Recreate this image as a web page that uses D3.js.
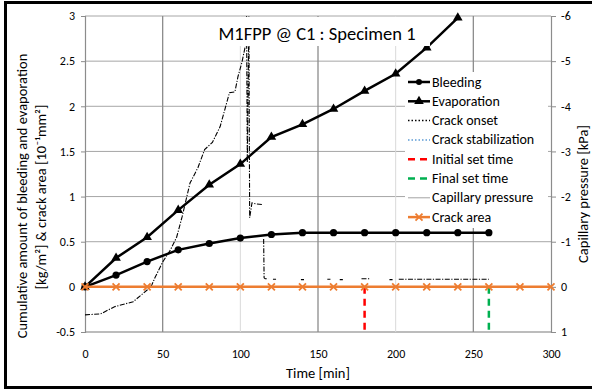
<!DOCTYPE html>
<html>
<head>
<meta charset="utf-8">
<script src="https://cdn.jsdelivr.net/npm/d3@7"></script>
<style>
  body { margin: 0; background: #fff; }
  svg { font-family: Carlito, Calibri, Lato, "Open Sans", sans-serif; }
</style>
</head>
<body>
<svg id="chart" width="592" height="391"></svg>
<script>
// time axis (min)
var xTicks = [0, 50, 100, 150, 200, 250, 300];
var yTicks = [-0.5, 0, 0.5, 1, 1.5, 2, 2.5, 3];
var y2Ticks = [1, 0, -1, -2, -3, -4, -5, -6];

// bleeding and evaporation [kg/m2]
var bleedT = [0, 20, 40, 60, 80, 100, 120, 140, 160, 180, 200, 220, 240, 260];
var bleedV = [0, 0.13, 0.28, 0.41, 0.48, 0.54, 0.58, 0.6, 0.6, 0.6, 0.6, 0.6, 0.6, 0.6];
var evapT = [0, 20, 40, 60, 80, 100, 120, 140, 160, 180, 200, 220, 240];
var evapV = [0, 0.32, 0.55, 0.85, 1.13, 1.36, 1.66, 1.8, 1.97, 2.17, 2.36, 2.65, 2.98];

// crack area [10^-1 mm2]
var crackT = [0, 20, 40, 60, 80, 100, 120, 140, 160, 180, 200, 220, 240, 260, 280, 300];
var crackV = [0, 0, 0, 0, 0, 0, 0, 0, 0, 0, 0, 0, 0, 0, 0, 0];

// set times (min)
var initialSet = 180;
var finalSet = 260;

// capillary pressure [kPa], null = no reading
var capT = [0, 10, 19, 31, 40, 43, 45, 50, 55, 59, 62.5, 67.6, 72.7, 77, 82, 87, 93, 96.5, 98.5, 101, 103,
  104, 104.5, 105.5, 106, 107.5, 110, 114.5, 114.8, 115, 115.3,
  116, 118, 118.5, 121, 123, 123.5, 139, 141, 141.5, 156, 158, 158.5, 164, 166, 166.5,
  178, 183, 183.5, 196, 198, 198.5, 202, 260];
var capP = [0.62, 0.6, 0.44, 0.33, 0.07, -0.04, -0.2, -0.55, -0.82, -1.1, -1.55, -2.3, -2.64, -3.04, -3.2, -3.55, -4.3, -4.32, -4.66, -4.97, -5.3,
  -6, -2.75, -6, -1.53, -1.86, -1.84, -1.82, null, -1.06, -0.2,
  -0.18, -0.18, null, -0.17, -0.17, null, -0.16, -0.16, null, -0.17, -0.17, null, -0.16, -0.16, null,
  -0.18, -0.18, null, -0.16, -0.16, null, -0.17, -0.17];

var legendNames = ["Bleeding", "Evaporation", "Crack onset", "Crack stabilization",
  "Initial set time", "Final set time", "Capillary pressure", "Crack area"];

var svg = d3.select("#chart");
var plotL = 85, plotR = 551, plotT = 16, plotB = 332;

var x = d3.scaleLinear().domain([0, 300]).range([plotL, plotR]);
var y = d3.scaleLinear().domain([-0.5, 3]).range([plotB, plotT]);
var y2 = d3.scaleLinear().domain([1, -6]).range([plotB, plotT]);

// outer frame (right edge is cut off in the picture)
svg.append("path")
  .attr("d", "M594,2.5 H5.5 V387.5 H594")
  .attr("fill", "none").attr("stroke", "#000").attr("stroke-width", 3);

// gridlines
svg.append("g").selectAll("line").data(yTicks).join("line")
  .attr("x1", plotL).attr("x2", plotR)
  .attr("y1", d => y(d)).attr("y2", d => y(d))
  .attr("stroke", "#a6a6a6")
  .attr("stroke-width", d => d === -0.5 ? 1.5 : 1);
svg.append("g").selectAll("line").data([50, 100, 150, 200, 250]).join("line")
  .attr("x1", d => x(d)).attr("x2", d => x(d))
  .attr("y1", plotT).attr("y2", plotB)
  .attr("stroke", d => d % 100 === 0 ? "#d9d9d9" : "#8c8c8c")
  .attr("stroke-width", d => d % 100 === 0 ? 1 : 1.3);

// axes
var fmt = d => String(d);
var gl = svg.append("g").attr("transform", "translate(" + plotL + ",0)")
  .call(d3.axisLeft(y).tickValues(yTicks).tickSize(4).tickPadding(6).tickFormat(fmt));
var gr = svg.append("g").attr("transform", "translate(" + plotR + ",0)")
  .call(d3.axisRight(y2).tickValues(y2Ticks).tickSize(5).tickPadding(5).tickFormat(fmt));
var gb = svg.append("g").attr("transform", "translate(0," + plotB + ")")
  .call(d3.axisBottom(x).tickValues(xTicks).tickSize(0).tickPadding(17).tickFormat(fmt));
[gl, gr, gb].forEach(function(g) {
  g.select(".domain").attr("stroke", "#8c8c8c").attr("stroke-width", 1.2);
  g.selectAll(".tick line").attr("stroke", "#8c8c8c");
  g.selectAll("text").attr("font-size", 12).attr("fill", "#000")
    .style("font-family", "Carlito, Calibri, Lato, sans-serif");
});
gb.select(".domain").remove();

// axis titles
svg.append("text")
  .attr("transform", "translate(27,196) rotate(-90)")
  .attr("text-anchor", "middle").attr("font-size", 14.5)
  .text("Cumulative amount of bleeding and evaporation");
svg.append("text")
  .attr("transform", "translate(46,197) rotate(-90)")
  .attr("text-anchor", "middle").attr("font-size", 14.5)
  .text("[kg/m²] & crack area [10⁻¹mm²]");
svg.append("text")
  .attr("transform", "translate(588,194) rotate(-90)")
  .attr("text-anchor", "middle").attr("font-size", 14.5)
  .text("Capillary pressure [kPa]");
svg.append("text")
  .attr("x", 318).attr("y", 378)
  .attr("text-anchor", "middle").attr("font-size", 14.5)
  .text("Time [min]");

var plot = svg.append("g");
var line = d3.line().x(d => x(d[0])).y(d => y(d[1]));

// bleeding
var bleed = d3.zip(bleedT, bleedV);
plot.append("path").datum(bleed).attr("d", line)
  .attr("fill", "none").attr("stroke", "#000").attr("stroke-width", 2.5);
plot.append("g").selectAll("circle").data(bleed).join("circle")
  .attr("cx", d => x(d[0])).attr("cy", d => y(d[1])).attr("r", 3.6).attr("fill", "#000");

// evaporation
var evap = d3.zip(evapT, evapV);
plot.append("path").datum(evap).attr("d", line)
  .attr("fill", "none").attr("stroke", "#000").attr("stroke-width", 2.5);
var tri = d3.symbol().type(d3.symbolTriangle).size(40);
plot.append("g").selectAll("path").data(evap).join("path")
  .attr("d", tri)
  .attr("transform", d => "translate(" + x(d[0]) + "," + y(d[1]) + ")")
  .attr("fill", "#000");

// set times
plot.append("line")
  .attr("x1", x(initialSet)).attr("x2", x(initialSet))
  .attr("y1", y(0)).attr("y2", y(-0.5))
  .attr("stroke", "#ff0000").attr("stroke-width", 2.5).attr("stroke-dasharray", "7,5");
plot.append("line")
  .attr("x1", x(finalSet)).attr("x2", x(finalSet))
  .attr("y1", y(0)).attr("y2", y(-0.5))
  .attr("stroke", "#00b050").attr("stroke-width", 2.5).attr("stroke-dasharray", "7,5");

// capillary pressure (secondary axis)
var cap = d3.zip(capT, capP);
var capLine = d3.line().defined(d => d[1] != null)
  .x(d => x(d[0])).y(d => y2(d[1]));
plot.append("path").datum(cap).attr("d", capLine)
  .attr("fill", "none").attr("stroke", "#000").attr("stroke-width", 1.1)
  .attr("stroke-dasharray", "5,1.5,1.2,1.5");

// crack area
var crack = d3.zip(crackT, crackV);
plot.append("path").datum(crack).attr("d", line)
  .attr("fill", "none").attr("stroke", "#ed7d31").attr("stroke-width", 2.5);
plot.append("g").selectAll("path").data(crack).join("path")
  .attr("d", "M-3.5,-3.5L3.5,3.5M-3.5,3.5L3.5,-3.5")
  .attr("transform", d => "translate(" + x(d[0]) + "," + y(d[1]) + ")")
  .attr("stroke", "#ed7d31").attr("stroke-width", 1.8);

// title with white box
svg.append("rect").attr("x", 204).attr("y", 17).attr("width", 226).attr("height", 29).attr("fill", "#fff");
svg.append("text").attr("x", 317).attr("y", 40)
  .attr("text-anchor", "middle").attr("font-size", 18.5)
  .text("M1FPP @ C1 : Specimen 1");

// legend
var lg = svg.append("g").attr("transform", "translate(405,72)");
lg.append("rect").attr("width", 143).attr("height", 156).attr("fill", "#fff");
var rowH = 19.3;
var items = lg.selectAll("g").data(legendNames).join("g")
  .attr("transform", (d, i) => "translate(0," + (10 + i * rowH) + ")");
items.append("text").attr("x", 27).attr("y", 4.5).attr("font-size", 14).text(d => d);
items.each(function(d, i) {
  var g = d3.select(this);
  if (i < 2) {
    g.append("line").attr("x1", 3).attr("x2", 25).attr("stroke", "#000").attr("stroke-width", 2.5);
    if (i === 0) g.append("circle").attr("cx", 14).attr("r", 3).attr("fill", "#000");
    else g.append("path").attr("d", tri).attr("transform", "translate(14,0)").attr("fill", "#000");
  } else if (i < 4) {
    g.append("line").attr("x1", 3).attr("x2", 25)
      .attr("stroke", i === 2 ? "#000" : "#5b9bd5").attr("stroke-width", 1.5)
      .attr("stroke-dasharray", "1.5,2");
  } else if (i < 6) {
    g.append("line").attr("x1", 3).attr("x2", 25)
      .attr("stroke", i === 4 ? "#ff0000" : "#00b050").attr("stroke-width", 2.5)
      .attr("stroke-dasharray", "7,5");
  } else if (i === 6) {
    g.append("line").attr("x1", 3).attr("x2", 25).attr("stroke", "#999").attr("stroke-width", 0.9);
  } else {
    g.append("line").attr("x1", 3).attr("x2", 25).attr("stroke", "#ed7d31").attr("stroke-width", 2.5);
    g.append("path").attr("d", "M-3.5,-3.5L3.5,3.5M-3.5,3.5L3.5,-3.5")
      .attr("transform", "translate(14,0)").attr("stroke", "#ed7d31").attr("stroke-width", 1.8);
  }
});
</script>
</body>
</html>
